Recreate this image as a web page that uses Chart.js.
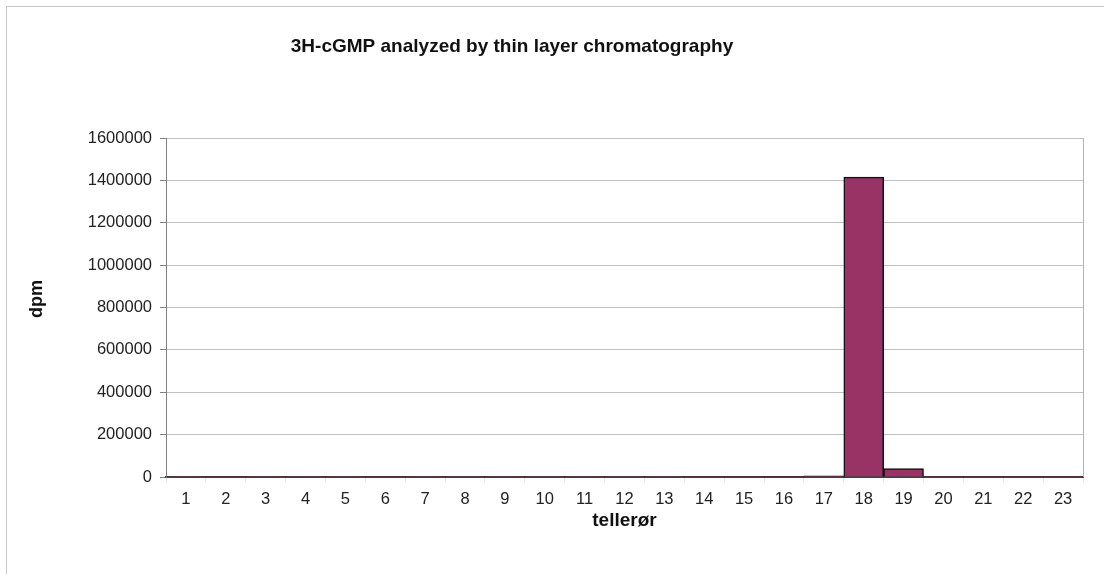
<!DOCTYPE html>
<html>
<head>
<meta charset="utf-8">
<script src="https://cdn.jsdelivr.net/npm/chart.js@4/dist/chart.umd.min.js"></script>
<style>
  body { margin: 0; background: #fff; overflow: hidden; }
  #wrap { position: relative; width: 1104px; height: 574px; }
  #frame { position: absolute; left: 6px; top: 6px; width: 1200px; height: 700px; border: 1px solid #c8c8c8; }
  #chart { position: absolute; left: 0; top: 0; }
</style>
</head>
<body>
<div id="wrap">
  <div id="frame"></div>
  <canvas id="chart" width="1104" height="574"></canvas>
</div>
<script>
const tubes = ['1','2','3','4','5','6','7','8','9','10','11','12','13','14','15','16','17','18','19','20','21','22','23'];
const dpm = [300, 500, 300, 300, 300, 800, 300, 300, 300, 300, 300, 300, 300, 1500, 500, 2000, 5000, 1415000, 40000, 800, 500, 500, 1000];
const yTicks = [0, 200000, 400000, 600000, 800000, 1000000, 1200000, 1400000, 1600000];

const chartTitle = '3H-cGMP analyzed by thin layer chromatography';
const yTitle = 'dpm';
const xTitle = 'tellerør';

const fontFam = '"Liberation Sans", Arial, sans-serif';

// titles and right edge of the plot, drawn by hand
const extras = {
  id: 'extras',
  afterDraw(chart) {
    const c = chart.ctx;
    const a = chart.chartArea;
    c.save();
    c.strokeStyle = '#b4b4b4';
    c.lineWidth = 1;
    c.beginPath();
    c.moveTo(a.right + 0.5, a.top);
    c.lineTo(a.right + 0.5, a.bottom);
    c.stroke();

    c.fillStyle = '#111';
    c.textAlign = 'center';
    c.textBaseline = 'middle';
    c.font = 'bold 19px ' + fontFam;
    c.fillText(chartTitle, 512, 47);

    c.fillText(xTitle, (a.left + a.right) / 2, 521);

    c.font = 'bold 18px ' + fontFam;
    c.translate(37, 299);
    c.rotate(-Math.PI / 2);
    c.fillText(yTitle, 0, 0);
    c.restore();
  }
};

new Chart(document.getElementById('chart').getContext('2d'), {
  type: 'bar',
  data: {
    labels: tubes,
    datasets: [{
      label: 'dpm',
      data: dpm,
      backgroundColor: '#993366',
      borderColor: '#111',
      borderWidth: 1.5,
      barPercentage: 1,
      categoryPercentage: 1,
    }],
  },
  options: {
    responsive: false,
    animation: false,
    layout: { padding: { top: 138, right: 21, left: 0, bottom: 0 } },
    plugins: {
      legend: { display: false },
      tooltip: { enabled: false },
    },
    scales: {
      x: {
        grid: { drawOnChartArea: false, tickLength: 5, tickColor: '#dde3ec' },
        border: { color: '#404040', width: 2 },
        ticks: { color: '#222', font: { family: fontFam, size: 16.5 }, padding: 8, maxRotation: 0, autoSkip: false },
        afterFit(s) { s.height = 97; },
      },
      y: {
        min: 0,
        max: 1600000,
        afterBuildTicks(s) { s.ticks = yTicks.map(v => ({ value: v })); },
        grid: { color: '#c0c0c0', tickLength: 6, tickColor: '#808080' },
        border: { color: '#808080', width: 1 },
        ticks: {
          color: '#222',
          font: { family: fontFam, size: 16.5 },
          padding: 8,
          callback: v => String(v),
        },
        afterFit(s) { s.width = 166; },
      },
    },
  },
  plugins: [extras],
});
</script>
</body>
</html>
